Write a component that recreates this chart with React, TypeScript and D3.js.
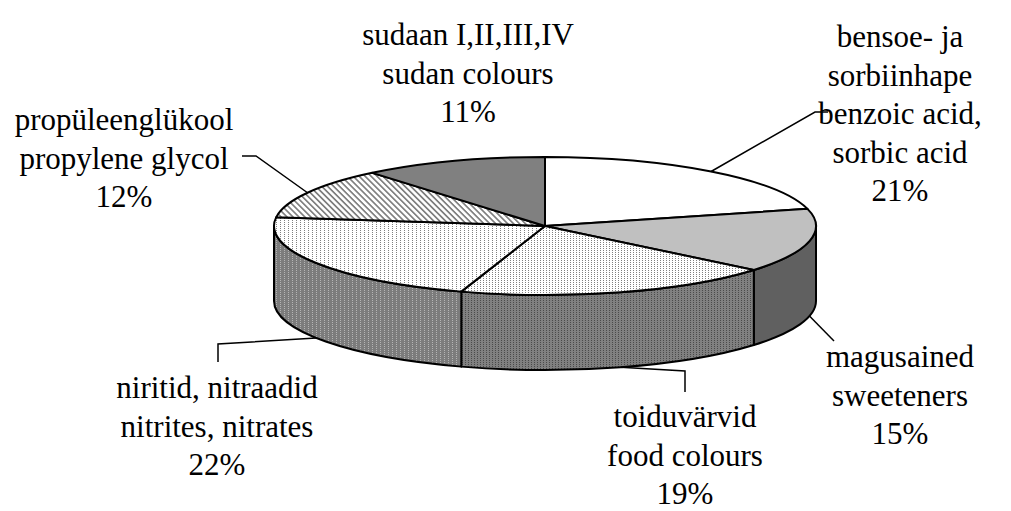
import { useEffect, useState } from "react";
import * as d3 from "d3";

// slice order, clockwise from 12 o'clock
const namesEt = [
  "bensoe- ja|sorbiinhape",
  "magusained",
  "toiduvärvid",
  "niritid, nitraadid",
  "propüleenglükool",
  "sudaan I,II,III,IV",
];
const namesEn = [
  "benzoic acid,|sorbic acid",
  "sweeteners",
  "food colours",
  "nitrites, nitrates",
  "propylene glycol",
  "sudan colours",
];
const shares = [21, 15, 19, 22, 12, 11];

// fills for top and side of each slice
const topFills = ["#ffffff", "#c0c0c0", "url(#fineDots)", "url(#vDots)", "url(#hatch)", "#808080"];
const sideFills = ["#808080", "#606060", "url(#fineDotsDark)", "url(#vDotsDark)", "url(#hatchDark)", "#404040"];

// label layout: centre x, first baseline y, leader elbow points
const labelLayout = [
  { x: 900, y: 47, leader: [[815, 112], [828, 112]] },
  { x: 900, y: 367, leader: [[834, 341]] },
  { x: 685, y: 427, leader: [[685, 371], [685, 392]] },
  { x: 217, y: 398, leader: [[218, 344], [218, 362]] },
  { x: 124, y: 130, leader: [[256, 156], [242, 156]] },
  { x: 468, y: 45, leader: [] },
];

const width = 1011;
const height = 511;
const cx = 545;
const cy = 226;
const rx = 271;
const ry = 69;
const depth = 75;
const lineH = 38.5;
const serif = "Liberation Serif";

const pt = (a: number, dy = 0): [number, number] => [
  cx + rx * Math.sin(a),
  cy - ry * Math.cos(a) + dy,
];

function topPath(a0: number, a1: number) {
  const p0 = pt(a0);
  const p1 = pt(a1);
  const large = a1 - a0 > Math.PI ? 1 : 0;
  return `M${cx},${cy}L${p0[0]},${p0[1]}A${rx},${ry} 0 ${large} 1 ${p1[0]},${p1[1]}Z`;
}

function sidePath(a0: number, a1: number) {
  const p0 = pt(a0);
  const p1 = pt(a1);
  const q1 = pt(a1, depth);
  const q0 = pt(a0, depth);
  return `M${p0[0]},${p0[1]}A${rx},${ry} 0 0 1 ${p1[0]},${p1[1]}L${q1[0]},${q1[1]}A${rx},${ry} 0 0 0 ${q0[0]},${q0[1]}Z`;
}

function App() {
  const [tick, setTick] = useState(0);

  useEffect(() => {
    document.body.style.margin = "0";
    // repaint the labels once the fonts are settled
    document.fonts.ready.then(() => {
      requestAnimationFrame(() => setTick(1));
      setTimeout(() => setTick(2), 150);
    });
  }, []);

  const arcs = d3
    .pie<number>()
    .sort(null)
    .startAngle(0)
    .endAngle(2 * Math.PI)(shares);

  const frontStart = Math.PI / 2;
  const frontEnd = (3 * Math.PI) / 2;

  return (
    <svg width={width} height={height} style={{ display: "block", background: "#fff" }}>
      <defs>
        <pattern id="fineDots" width="3" height="2" patternUnits="userSpaceOnUse">
          <rect width="3" height="2" fill="#fff" />
          <rect width="1" height="1" fill="#808080" />
        </pattern>
        <pattern id="fineDotsDark" width="3" height="2" patternUnits="userSpaceOnUse">
          <rect width="3" height="2" fill="#808080" />
          <rect width="1" height="1" fill="#4a4a4a" />
        </pattern>
        <pattern id="vDots" width="4" height="2" patternUnits="userSpaceOnUse">
          <rect width="4" height="2" fill="#fff" />
          <rect width="1" height="1" fill="#808080" />
        </pattern>
        <pattern id="vDotsDark" width="4" height="2" patternUnits="userSpaceOnUse">
          <rect width="4" height="2" fill="#7c7c7c" />
          <rect width="1" height="1" fill="#b4b4b4" />
        </pattern>
        <pattern id="hatch" width="4.2" height="4.2" patternUnits="userSpaceOnUse" patternTransform="rotate(45)">
          <rect width="4.2" height="4.2" fill="#fff" />
          <rect width="4.2" height="1.7" fill="#808080" />
        </pattern>
        <pattern id="hatchDark" width="4.2" height="4.2" patternUnits="userSpaceOnUse" patternTransform="rotate(45)">
          <rect width="4.2" height="4.2" fill="#808080" />
          <rect width="4.2" height="1.7" fill="#404040" />
        </pattern>
      </defs>

      {/* sides of the front half */}
      <g stroke="#000" strokeWidth={2} strokeLinejoin="round">
        {arcs.map((d, i) => {
          const s0 = Math.max(d.startAngle, frontStart);
          const s1 = Math.min(d.endAngle, frontEnd);
          if (s1 <= s0) return null;
          return <path key={i} d={sidePath(s0, s1)} fill={sideFills[i]} />;
        })}
      </g>

      {/* tops */}
      <g stroke="#000" strokeWidth={2} strokeLinejoin="round">
        {arcs.map((d, i) => (
          <path key={i} d={topPath(d.startAngle, d.endAngle)} fill={topFills[i]} />
        ))}
      </g>

      {/* leader lines */}
      <g stroke="#000" strokeWidth={1.5} fill="none">
        {arcs.map((d, i) => {
          const lay = labelLayout[i];
          if (!lay.leader.length) return null;
          const mid = (d.startAngle + d.endAngle) / 2;
          const front = mid > frontStart && mid < frontEnd;
          const a = pt(mid, front ? depth : 0);
          const pts = [a, ...lay.leader];
          return <polyline key={i} points={pts.map((p) => p.join(",")).join(" ")} />;
        })}
      </g>

      {/* labels */}
      <g
        key={tick}
        fontFamily={serif}
        fontSize={31}
        textAnchor="middle"
        fill={tick % 2 ? "#010101" : "#000"}
      >
        {arcs.map((d, i) => {
          const lay = labelLayout[i];
          const lines = [
            ...namesEt[i].split("|"),
            ...namesEn[i].split("|"),
            `${shares[i]}%`,
          ];
          return lines.map((t, j) => (
            <text key={`${i}-${j}`} x={lay.x} y={lay.y + j * lineH}>
              {t}
            </text>
          ));
        })}
      </g>
    </svg>
  );
}

export default App;
